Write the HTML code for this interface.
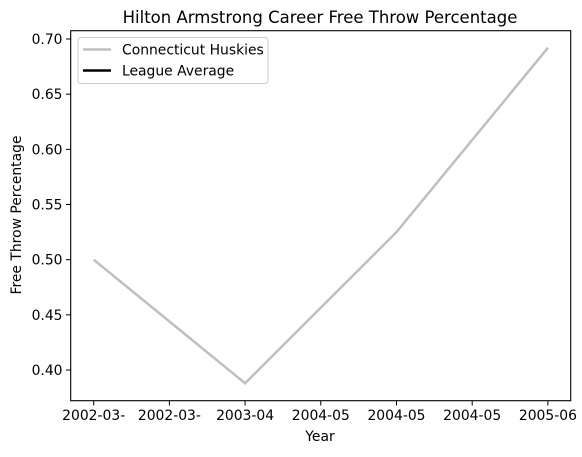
<!DOCTYPE html>
<html><head><meta charset="utf-8"><style>
body{margin:0;background:#fff;font-family:"DejaVu Sans","Liberation Sans",sans-serif;}
svg text{font-family:"DejaVu Sans","Liberation Sans",sans-serif;fill:#000;}
</style></head><body>
<svg id="chart" width="582" height="453">
<rect width="582" height="453" fill="#fff"/>
<text x="320" y="23" font-size="16.5" text-anchor="middle">Hilton Armstrong Career Free Throw Percentage</text>
<g id="yticks"></g><g id="xticks"></g>
<polyline id="line" fill="none" stroke="#bfbfbf" stroke-width="2.5"/>
<rect x="70.7" y="30.7" width="500" height="370" fill="none" stroke="#000" stroke-width="1.1"/>
<text x="320" y="441" font-size="13.9" text-anchor="middle">Year</text>
<text transform="translate(21,215) rotate(-90)" font-size="13.9" text-anchor="middle">Free Throw Percentage</text>
<g>
<rect x="78" y="37.5" width="190" height="46" rx="3" fill="#fff" stroke="#ccc"/>
<line x1="83" y1="49.5" x2="111" y2="49.5" stroke="#bfbfbf" stroke-width="2.5"/>
<text x="122" y="54.5" font-size="13.9">Connecticut Huskies</text>
<line x1="83" y1="70.5" x2="111" y2="70.5" stroke="#000" stroke-width="2.5"/>
<text x="122" y="75.5" font-size="13.9">League Average</text>
</g>
</svg>
<script>
const xLabels=["2002-03-","2002-03-","2003-04","2004-05","2004-05","2004-05","2005-06"];
const xIdx=[0,2,4,6];
const values=[0.500,0.388,0.525,0.692];
const yTicks=[0.40,0.45,0.50,0.55,0.60,0.65,0.70];
const NS="http://www.w3.org/2000/svg";
function xs(i){return 93.7+i*75.7;}
function ys(v){return 39+(0.70-v)/0.05*55.17;}
const yg=document.getElementById('yticks'),xg=document.getElementById('xticks');
yTicks.forEach(t=>{
 const l=document.createElementNS(NS,'line');
 l.setAttribute('x1',66);l.setAttribute('x2',70.7);l.setAttribute('y1',ys(t));l.setAttribute('y2',ys(t));l.setAttribute('stroke','#000');
 
 
 yg.appendChild(l);
 const tx=document.createElementNS(NS,'text');
 tx.setAttribute('x',62.5);tx.setAttribute('y',ys(t)+5);tx.setAttribute('font-size','13.9');tx.setAttribute('text-anchor','end');
 tx.textContent=t.toFixed(2);
 
 
 yg.appendChild(tx);
});
xLabels.forEach((s,i)=>{
 const l=document.createElementNS(NS,'line');
 l.setAttribute('x1',xs(i));l.setAttribute('x2',xs(i));l.setAttribute('y1',400.7);l.setAttribute('y2',405.5);l.setAttribute('stroke','#000');
 
 
 xg.appendChild(l);
 const tx=document.createElementNS(NS,'text');
 tx.setAttribute('x',xs(i));tx.setAttribute('y',420);tx.setAttribute('font-size','13.9');tx.setAttribute('text-anchor','middle');
 tx.textContent=s;
 
 
 xg.appendChild(tx);
});
document.getElementById('line').setAttribute('points',values.map((v,k)=>xs(xIdx[k])+','+ys(v)).join(' '));
</script>
</body></html>
